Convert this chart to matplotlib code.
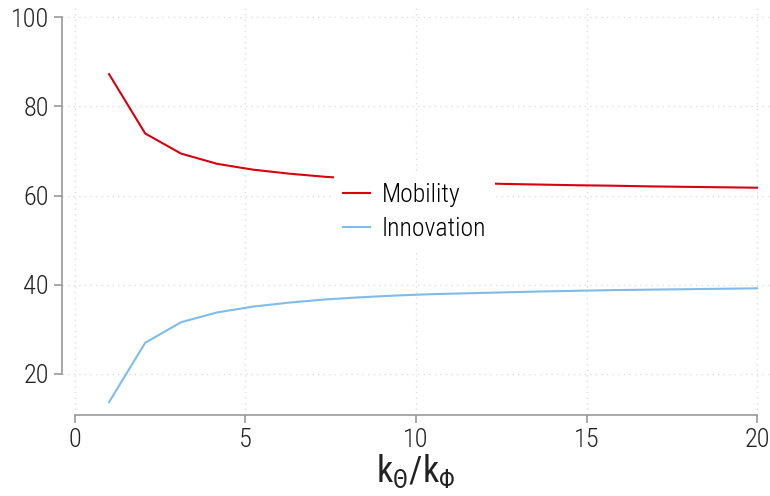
import matplotlib
matplotlib.use('Agg')
import matplotlib.pyplot as plt
from matplotlib import font_manager

# dati
ratio = [1.0, 2.06, 3.11, 4.17, 5.22, 6.28, 7.33, 8.39, 9.44, 10.5,
         11.56, 12.61, 13.67, 14.72, 15.78, 16.83, 17.89, 18.94, 20.0]
mobility = [87.2, 73.9, 69.4, 67.1, 65.8, 64.9, 64.2, 63.7, 63.3, 63.0,
            62.8, 62.6, 62.45, 62.3, 62.2, 62.05, 61.95, 61.85, 61.75]
innovation = [13.7, 27.0, 31.6, 33.8, 35.1, 36.0, 36.7, 37.2, 37.6, 37.9,
              38.1, 38.3, 38.5, 38.65, 38.8, 38.9, 39.0, 39.1, 39.2]
xticks = [0, 5, 10, 15, 20]
yticks = [20, 40, 60, 80, 100]

# font: prendi il primo disponibile
names = {f.name for f in font_manager.fontManager.ttflist}
family = next((n for n in ['Roboto Condensed', 'Liberation Sans Narrow', 'Roboto'] if n in names), 'DejaVu Sans')
plt.rcParams['font.family'] = family
plt.rcParams['font.weight'] = 'light'
plt.rcParams['mathtext.fontset'] = 'custom'
plt.rcParams['mathtext.rm'] = family

fig = plt.figure(figsize=(7.7, 4.96), dpi=100)
ax = fig.add_axes([62 / 770, 81 / 496, 708 / 770, 410 / 496])

ax.plot(ratio, mobility, color='#d7000f', lw=1.5, label='Mobility')
ax.plot(ratio, innovation, color='#80bce8', lw=1.5, label='Innovation')

ax.set_xlim(-0.38, 20.38)
ax.set_ylim(10.81, 102.7)
ax.set_xticks(xticks)
ax.set_yticks(yticks)
ax.grid(True, color='#dddddd', linestyle=(0, (1, 3)), lw=1)

# assi "staccati"
for s in ['top', 'right']:
    ax.spines[s].set_visible(False)
ax.spines['left'].set_bounds(20, 100)
ax.spines['bottom'].set_bounds(0, 20)
for s in ['left', 'bottom']:
    ax.spines[s].set_color('#999999')
    ax.spines[s].set_linewidth(1.2)
ax.tick_params(colors='#999999', length=6, width=1.2, labelsize=19, labelcolor='#222222')

ax.set_xlabel(r'$\mathregular{k_{\Theta}/k_{\Phi}}$', fontsize=26, color='#222222', labelpad=0)

leg = ax.legend(frameon=True, loc='center left', bbox_to_anchor=(321 / 770, 284 / 496),
                bbox_transform=fig.transFigure, fontsize=18.5, handlelength=1.05,
                handletextpad=0.45, labelspacing=0.38, borderpad=0.35,
                facecolor='white', edgecolor='none', framealpha=1, fancybox=False)

fig.savefig('out.png', dpi=100)
